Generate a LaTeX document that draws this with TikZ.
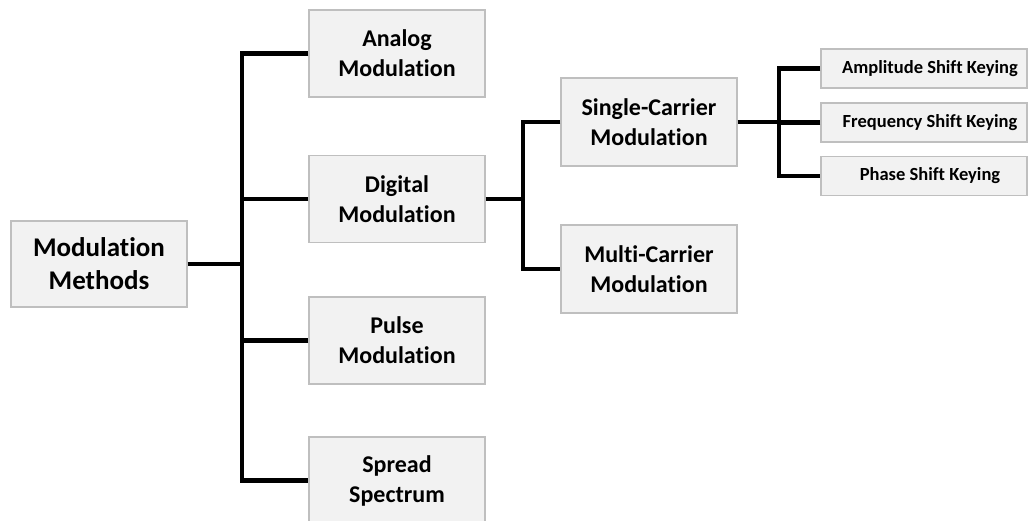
\documentclass[tikz,border=0pt]{standalone}
\usepackage{fontspec}
\setmainfont[Ligatures={NoCommon,NoContextual}]{Carlito}
\begin{document}
\begin{tikzpicture}[x=1pt,y=-1pt,
  box/.style={draw=boxline, fill=boxfill, line width=1.2pt, align=center,
    inner sep=0pt, font=\bfseries},
  bigbox/.style={box, minimum width=176pt, minimum height=87pt,
    font=\fontsize{24}{30}\bfseries\selectfont},
  rootbox/.style={box, minimum width=176pt, minimum height=86pt,
    font=\fontsize{27}{33}\bfseries\selectfont},
  smallbox/.style={box, minimum width=206pt, minimum height=39pt,
    font=\fontsize{18.5}{22}\bfseries\selectfont},
  conn/.style={line width=4.5pt, line join=miter}]
\definecolor{boxfill}{HTML}{F2F2F2}
\definecolor{boxline}{HTML}{BFBFBF}
\useasboundingbox (0,0) rectangle (1028,520);

% tree nodes
\node[rootbox] (root) at (99,264) {Modulation\\Methods};
\node[bigbox] (analog) at (397,53.5) {Analog\\Modulation};
\node[bigbox] (digital) at (397,199) {Digital\\Modulation};
\node[bigbox] (pulse) at (397,340.5) {Pulse\\Modulation};
\node[bigbox] (spread) at (397,480.5) {Spread\\Spectrum};
\node[bigbox, minimum height=88pt] (single) at (649,122) {Single-Carrier\\Modulation};
\node[bigbox, minimum height=88pt] (multi) at (649,269) {Multi-Carrier\\Modulation};
\node[smallbox] (ask) at (924,68.5) {\hspace*{12pt}Amplitude Shift Keying};
\node[smallbox] (fsk) at (924,122.5) {\hspace*{12pt}Frequency Shift Keying};
\node[smallbox] (psk) at (924,176) {\hspace*{12pt}Phase Shift Keying};

% branch points of the connectors
\coordinate (j1) at (242,264);
\coordinate (j2) at (523,199);
\coordinate (j3) at (779,122);

% root to the four modulation families
\draw[conn] (root.east) -- (j1);
\draw[conn] (analog.west) -- (analog.west -| j1) -- (spread.west -| j1) -- (spread.west);
\draw[conn] (digital.west) -- (digital.west -| j1);
\draw[conn] (pulse.west) -- (pulse.west -| j1);

% digital modulation to its carrier types
\draw[conn] (digital.east) -- (j2);
\draw[conn] (single.west) -- (single.west -| j2) -- (multi.west -| j2) -- (multi.west);

% single-carrier modulation to the keying schemes
\draw[conn] (single.east) -- (j3);
\draw[conn] (ask.west) -- (ask.west -| j3) -- (psk.west -| j3) -- (psk.west);
\draw[conn] (fsk.west) -- (fsk.west -| j3);
\end{tikzpicture}
\end{document}
